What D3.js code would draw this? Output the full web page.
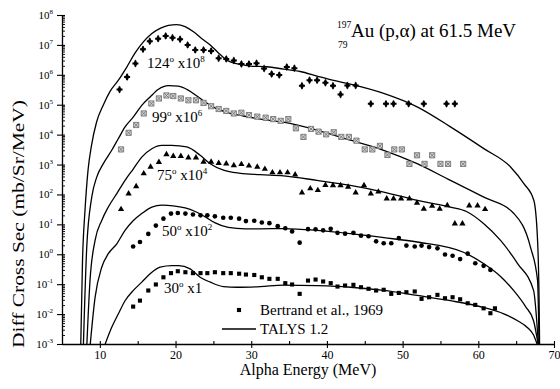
<!DOCTYPE html>
<html>
<head>
<meta charset="utf-8">
<script src="https://cdn.jsdelivr.net/npm/d3@7"></script>
<style>
  body { margin: 0; background: #fff; }
  svg, svg text, svg tspan { font-family: "Liberation Serif", "Times New Roman", "DejaVu Serif", serif !important; }
  svg text { fill: #000; }
</style>
</head>
<body>
<svg id="chart" width="560" height="389" font-family="Liberation Serif, Times New Roman, DejaVu Serif, serif"></svg>
<script>
// ---- Measured spectra, Bertrand et al. 1969 (mb/sr/MeV, unscaled) ----
const e124 = [12.6,13.6,14.7,15.7,16.6,17.7,18.7,19.6,20.6,21.6,22.6,23.7,24.7,25.7,26.7,27.7,28.7,29.7,30.7,31.7,32.7,33.7,34.7,35.7,36.7,37.7,38.7,39.8,40.8,41.8,42.7,43.8,45.8,47.8,48.8,50.8,52.8,55.8,56.9];
const s124 = [3.2e-3,8.5e-3,2.4e-2,7.1e-2,0.132,0.162,0.20,0.174,0.155,0.100,0.068,0.068,0.063,0.036,0.034,0.030,0.023,0.023,0.0245,0.0162,0.0107,0.0098,0.0182,0.0166,0.0043,0.0066,0.0066,0.0054,0.0043,0.0022,0.0044,0.0044,0.00107,0.00107,0.00107,0.00107,0.00107,0.00107,0.00107];

const e99 = [12.8,13.8,14.8,15.8,16.8,17.8,18.8,19.7,20.7,21.7,22.7,23.7,24.7,25.7,26.7,27.7,28.7,29.7,30.8,31.9,32.9,33.9,34.9,35.9,36.9,37.9,38.9,39.9,40.9,41.9,42.9,43.9,45.0,46.0,47.0,48.0,48.9,49.9,50.9,51.9,52.9,53.9,55.0,56.0,58.0];
const s99 = [3.2e-3,1.15e-2,2.1e-2,5.1e-2,0.11,0.162,0.204,0.195,0.162,0.141,0.141,0.115,0.089,0.072,0.062,0.051,0.054,0.045,0.040,0.037,0.033,0.029,0.033,0.0163,0.0084,0.0155,0.0126,0.0102,0.012,0.0084,0.0084,0.0063,0.0032,0.0032,0.0042,0.0021,0.0032,0.0032,0.00105,0.00204,0.00105,0.00204,0.00105,0.00105,0.00105];

const e75 = [12.8,13.8,14.8,15.8,16.7,17.8,18.8,19.7,20.7,21.7,22.7,23.7,24.7,25.7,26.7,27.7,28.7,29.7,30.8,31.8,32.8,33.8,34.8,35.8,36.7,37.8,38.8,39.8,40.8,41.8,42.8,43.8,44.9,45.8,46.8,47.9,48.8,49.8,50.9,51.9,52.8,53.9,54.9,55.9,56.9,57.9,58.8,59.9,60.9];
const s75 = [3.2e-3,0.0107,0.0186,0.050,0.083,0.120,0.219,0.19,0.19,0.17,0.17,0.123,0.123,0.112,0.107,0.093,0.102,0.091,0.083,0.071,0.054,0.054,0.054,0.046,0.0115,0.0158,0.0138,0.0204,0.020,0.020,0.0178,0.0115,0.020,0.0107,0.0123,0.0072,0.0072,0.0072,0.0072,0.0052,0.0033,0.0041,0.0033,0.0043,0.00105,0.00105,0.0042,0.0042,0.0032];

const e50 = [14.4,15.3,16.4,17.4,18.4,19.4,20.3,21.3,22.3,23.3,24.2,25.2,26.3,27.3,28.4,29.3,30.4,31.4,32.4,33.5,34.5,35.4,36.4,37.5,38.5,39.5,40.5,41.4,42.4,43.5,44.5,45.5,46.5,47.5,48.5,49.5,50.5,51.6,52.5,53.5,54.6,55.6,56.6,57.6,58.6,59.6,60.7,61.6];
const s50 = [0.0182,0.0257,0.048,0.091,0.155,0.229,0.240,0.229,0.214,0.20,0.20,0.186,0.166,0.166,0.155,0.129,0.132,0.115,0.110,0.087,0.074,0.058,0.0245,0.069,0.068,0.063,0.071,0.052,0.049,0.052,0.042,0.040,0.027,0.0234,0.0234,0.0347,0.0195,0.0182,0.0195,0.0174,0.0158,0.0098,0.0089,0.0069,0.0105,0.0050,0.0041,0.0030];

const e30 = [14.4,15.3,16.4,17.4,18.4,19.4,20.3,21.3,22.3,23.3,24.2,25.2,26.3,27.3,28.4,29.3,30.4,31.4,32.4,33.5,34.5,35.4,36.4,37.5,38.5,39.5,40.5,41.4,42.4,43.5,44.5,45.5,46.5,47.5,48.5,49.5,50.5,51.6,52.5,53.5,54.6,55.6,56.6,57.6,58.6,59.6,60.7,61.6,62.2];
const s30 = [0.0178,0.0282,0.0615,0.0977,0.170,0.234,0.271,0.251,0.234,0.234,0.234,0.251,0.234,0.234,0.224,0.210,0.203,0.170,0.151,0.151,0.108,0.0977,0.0475,0.132,0.143,0.123,0.108,0.0834,0.0902,0.095,0.079,0.070,0.0615,0.065,0.0475,0.051,0.054,0.057,0.0323,0.0366,0.0439,0.0339,0.0366,0.0313,0.0230,0.0203,0.0156,0.0107,0.0156];

// ---- TALYS 1.2 calculations (mb/sr/MeV, unscaled) ----
const t124E = [7.47,7.71,8.04,8.44,8.90,9.56,10.46,11.35,12.45,13.56,14.66,15.75,16.87,17.96,19.06,20.17,21.27,22.37,23.48,24.58,25.67,26.79,27.88,28.98,29.87,32.08,34.28,36.48,38.69,40.89,43.10,47.50,51.92,56.32,60.73,64.26,66.02,67.34,67.83,68.03,68.10];
const t124  = [7.9e-12,6.2e-9,2.95e-7,6.5e-6,4.4e-5,2.6e-4,9.8e-4,2.8e-3,6.6e-3,1.82e-2,5.4e-2,0.126,0.24,0.355,0.447,0.479,0.407,0.275,0.162,0.100,0.054,0.031,0.024,0.0214,0.0195,0.0186,0.0155,0.0129,0.0091,0.0065,0.0049,0.0024,8.5e-4,1.82e-4,3.4e-5,8.3e-6,2.3e-6,6.3e-7,2.9e-8,2.8e-10,7.9e-12];

const t99E = [7.82,8.27,8.93,9.59,10.46,11.57,12.45,13.33,14.43,15.54,16.64,17.74,19.06,20.38,21.67,22.82,23.92,25.01,26.79,28.98,31.19,34.27,38.69,43.10,47.50,51.92,56.32,60.73,64.70,66.90,67.83,68.03];
const t99  = [7.9e-10,1.74e-6,8.1e-5,3.8e-4,1.07e-3,3.0e-3,7.4e-3,1.82e-2,3.9e-2,9.5e-2,0.182,0.331,0.437,0.417,0.309,0.195,0.123,0.083,0.056,0.042,0.033,0.026,0.0141,0.0065,0.0030,1.07e-3,2.95e-4,8.1e-5,2.3e-5,1.7e-6,1.3e-7,7.9e-10];

const t75E = [8.27,8.70,9.37,10.25,11.12,12.24,13.33,14.43,15.54,16.87,18.19,19.51,21.49,23.25,24.58,26.34,28.54,31.19,34.27,38.69,43.10,47.50,51.92,56.32,58.44,60.69,62.94,65.19,67.30,67.96];
const t75  = [7.9e-8,1.32e-5,2.9e-4,1.35e-3,3.8e-3,1.07e-2,2.95e-2,7.2e-2,0.178,0.339,0.437,0.437,0.389,0.204,0.107,0.065,0.051,0.046,0.042,0.0295,0.020,0.012,0.0063,0.0038,0.0027,1.07e-3,2.9e-4,4.9e-5,6.2e-6,7.9e-8];

const t50E = [8.70,9.37,10.25,11.12,12.24,13.33,14.43,15.54,16.87,18.19,19.68,21.27,22.59,23.92,25.24,26.96,29.21,31.19,34.27,38.69,43.10,47.50,51.92,58.04,60.69,62.94,64.66,66.25,67.30,67.96];
const t50  = [7.9e-6,3.6e-4,3.7e-3,1.05e-2,2.24e-2,6.3e-2,0.135,0.229,0.38,0.437,0.417,0.355,0.269,0.178,0.112,0.079,0.071,0.071,0.072,0.063,0.049,0.036,0.0257,0.0117,0.0049,1.82e-3,6.2e-4,1.78e-4,6.0e-5,7.9e-6];

const t30E = [10.56,11.57,12.45,13.33,14.43,15.54,16.64,17.96,19.51,20.38,21.93,23.25,24.58,26.34,28.11,31.19,34.27,38.69,43.10,47.50,51.92,56.32,60.73,63.37,65.19,66.51,67.30,67.83];
const t30  = [7.9e-4,3.6e-3,1.02e-2,2.8e-2,6.2e-2,0.117,0.224,0.372,0.417,0.417,0.324,0.170,0.117,0.083,0.079,0.083,0.093,0.089,0.079,0.062,0.042,0.028,0.0166,0.0102,6.0e-3,3.5e-3,2.0e-3,8.9e-4];

// ---- Angles and display multipliers ----
const angles = ["124", "99", "75", "50", "30"];
const factors = [1e8, 1e6, 1e4, 1e2, 1];
const factorExp = ["8", "6", "4", "2", ""];

// ---- Axis ticks ----
const xTicks = [10, 20, 30, 40, 50, 60, 70];
const xTickLabels = ["10", "20", "30", "40", "50", "60", "70"];
const xMinor = [15, 25, 35, 45, 55, 65];
const yTicks = [1e-3, 1e-2, 1e-1, 1e0, 1e1, 1e2, 1e3, 1e4, 1e5, 1e6, 1e7, 1e8];
const yExp = ["-3", "-2", "-1", "0", "1", "2", "3", "4", "5", "6", "7", "8"];

const FONT = "Liberation Serif, Times New Roman, DejaVu Serif, serif";
const svg = d3.select("#chart");
const x = d3.scaleLinear().domain([5, 70]).range([62, 554]);
const y = d3.scaleLog().domain([1e-3, 1e8]).range([344, 15]);

svg.append("rect").attr("width", 560).attr("height", 389).attr("fill", "#fff");

svg.append("defs").append("clipPath").attr("id", "plotArea")
  .append("rect")
  .attr("x", x(5)).attr("y", y(1e8) - 10)
  .attr("width", x(70) - x(5)).attr("height", y(1e-3) - y(1e8) + 10);

// ---- Marker shapes ----
const markSquareX = "M-2.6,-2.6H2.6V2.6H-2.6Z M-2.6,-2.6L2.6,2.6 M2.6,-2.6L-2.6,2.6";
const markDiamondCross = d3.symbol().type(d3.symbolDiamond).size(18)() + d3.symbol().type(d3.symbolCross).size(20)();
const markers = [
  { path: markDiamondCross, fill: "#000", stroke: "none", sw: 0 },
  { path: markSquareX, fill: "#d4d4d4", stroke: "#777", sw: 0.9 },
  { path: d3.symbol().type(d3.symbolTriangle).size(17)(), fill: "#000", stroke: "none", sw: 0 },
  { path: d3.symbol().type(d3.symbolCircle).size(17)(), fill: "#000", stroke: "none", sw: 0 },
  { path: d3.symbol().type(d3.symbolSquare).size(17)(), fill: "#000", stroke: "none", sw: 0 }
];

const expData = [[e124, s124], [e99, s99], [e75, s75], [e50, s50], [e30, s30]];
const calc = [[t124E, t124], [t99E, t99], [t75E, t75], [t50E, t50], [t30E, t30]];

// ---- TALYS curves ----
const line = d3.line().x(d => x(d[0])).y(d => y(d[1])).curve(d3.curveMonotoneX);
const gCurves = svg.append("g").attr("clip-path", "url(#plotArea)");
calc.forEach(([es, vs], k) => {
  gCurves.append("path")
    .datum(es.map((e, i) => [e, vs[i] * factors[k]]))
    .attr("d", line)
    .attr("fill", "none")
    .attr("stroke", "#000")
    .attr("stroke-width", 1.3);
});

// ---- Measured points ----
const gPts = svg.append("g").attr("clip-path", "url(#plotArea)");
expData.forEach(([es, vs], k) => {
  const m = markers[k];
  gPts.selectAll(null)
    .data(es.map((e, i) => [e, vs[i] * factors[k]]))
    .join("path")
    .attr("transform", d => `translate(${x(d[0])},${y(d[1])})`)
    .attr("d", m.path)
    .attr("fill", m.fill)
    .attr("stroke", m.stroke)
    .attr("stroke-width", m.sw);
});

// ---- Axes ----
const axisStyle = g => {
  g.attr("font-family", FONT);
  g.selectAll("path.domain").attr("stroke", "#000").attr("stroke-width", 1.3);
  g.selectAll(".tick line").attr("stroke", "#000").attr("stroke-width", 1.1);
};

const gx = svg.append("g").attr("transform", `translate(0,${y(1e-3)})`);
gx.call(d3.axisBottom(x).tickValues(xTicks).tickSize(4).tickSizeOuter(0).tickPadding(2)
  .tickFormat((d, i) => xTickLabels[i]));
gx.call(axisStyle);
gx.selectAll(".tick text").attr("font-size", 12);
svg.append("g").attr("transform", `translate(0,${y(1e-3)})`)
  .call(d3.axisBottom(x).tickValues(xTicks).tickSize(-3).tickSizeOuter(0).tickFormat(""))
  .call(g => g.select(".domain").remove()).call(axisStyle);
svg.append("g").attr("transform", `translate(0,${y(1e-3)})`)
  .call(d3.axisBottom(x).tickValues(xMinor).tickSize(-3).tickSizeOuter(0).tickFormat(""))
  .call(g => g.select(".domain").remove()).call(axisStyle);

const gy = svg.append("g").attr("transform", `translate(${x(5)},0)`);
gy.call(d3.axisLeft(y).tickValues(yTicks).tickSize(5).tickSizeOuter(0).tickPadding(4).tickFormat(() => ""));
gy.call(axisStyle);
gy.selectAll(".tick text").each(function (d, i) {
  const t = d3.select(this).attr("font-size", 11);
  t.append("tspan").text("10");
  t.append("tspan").attr("dy", -5).attr("font-size", 7).text(yExp[i]);
});
svg.append("g").attr("transform", `translate(${x(5)},0)`)
  .call(d3.axisLeft(y).tickValues(yTicks).tickSize(-3).tickSizeOuter(0).tickFormat(""))
  .call(g => g.select(".domain").remove()).call(axisStyle);
const yMinor = y.ticks(100).filter(v => Math.abs(Math.log10(v) - Math.round(Math.log10(v))) > 1e-6);
svg.append("g").attr("transform", `translate(${x(5)},0)`)
  .call(d3.axisLeft(y).tickValues(yMinor).tickSize(-3).tickSizeOuter(0).tickFormat(""))
  .call(g => g.select(".domain").remove())
  .call(g => g.selectAll(".tick line").attr("stroke", "#000").attr("stroke-width", 0.9));

// ---- Axis titles ----
svg.append("text")
  .attr("x", (x(5) + x(70)) / 2).attr("y", 375)
  .attr("text-anchor", "middle").attr("font-size", 16)
  .text("Alpha Energy (MeV)");

svg.append("text")
  .attr("transform", "translate(24,224) rotate(-90)")
  .attr("text-anchor", "middle").attr("font-size", 16)
  .attr("textLength", 248).attr("lengthAdjust", "spacingAndGlyphs")
  .text("Diff Cross Sec (mb/Sr/MeV)");

// ---- Reaction title ----
svg.append("text").attr("x", 337).attr("y", 28).attr("font-size", 9.5).text("197");
svg.append("text").attr("x", 338).attr("y", 48).attr("font-size", 9.5).text("79");
svg.append("text").attr("x", 351).attr("y", 37).attr("font-size", 19).text("Au (p,\u03b1) at 61.5 MeV");

// ---- Angle labels ----
const labelPos = [[147, 68], [152, 122], [157, 180], [162, 236], [164, 293]];
angles.forEach((a, k) => {
  const t = svg.append("text").attr("x", labelPos[k][0]).attr("y", labelPos[k][1]).attr("font-size", 15);
  t.append("tspan").text(a);
  t.append("tspan").attr("dy", -6).attr("font-size", 9).text("o");
  t.append("tspan").attr("dy", 6).text(factorExp[k] ? " x10" : " x1");
  if (factorExp[k]) t.append("tspan").attr("dy", -6).attr("font-size", 9).text(factorExp[k]);
});

// ---- Legend ----
svg.append("path").attr("transform", "translate(239,310)").attr("d", markers[4].path).attr("fill", "#000");
svg.append("text").attr("x", 260).attr("y", 315).attr("font-size", 15).text("Bertrand et al., 1969");
svg.append("line").attr("x1", 222).attr("x2", 256).attr("y1", 329).attr("y2", 329)
  .attr("stroke", "#000").attr("stroke-width", 1.3);
svg.append("text").attr("x", 260).attr("y", 334).attr("font-size", 15).text("TALYS 1.2");
</script>
</body>
</html>
